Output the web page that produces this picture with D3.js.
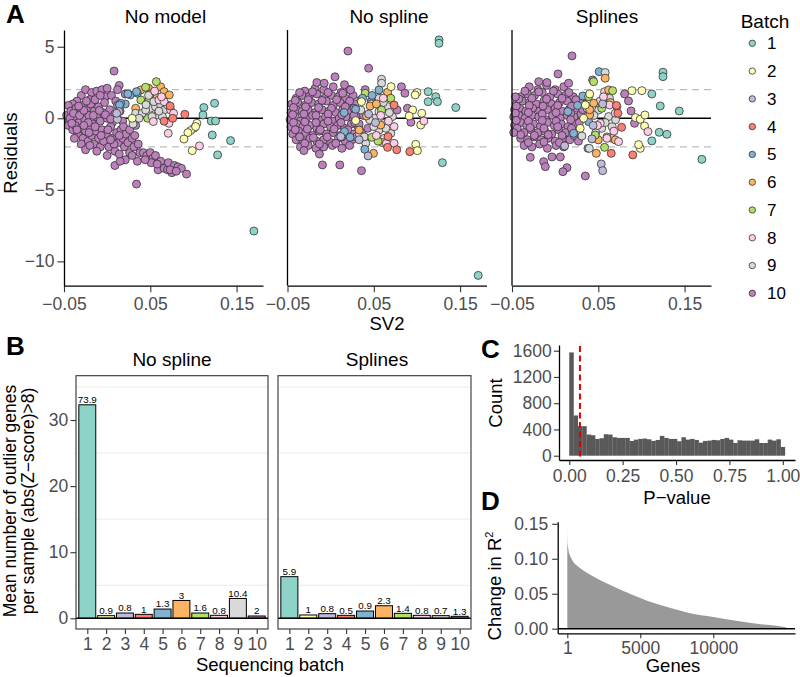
<!DOCTYPE html>
<html><head><meta charset="utf-8">
<script src="https://cdn.jsdelivr.net/npm/d3@7"></script>
<style>body{margin:0;background:#fff}</style>
</head><body>
<svg id="c" width="800" height="677"></svg>
<script>
// ---------------- DATA ----------------
const batches = [1,2,3,4,5,6,7,8,9,10];
const batchColors = ["#8DD3C7","#FFFFB3","#BEBADA","#FB8072","#80B1D3","#FDB462","#B3DE69","#FCCDE5","#D9D9D9","#BC80BD"];
const residualPanels = ["No model","No spline","Splines"];
const sv2Ticks = [-0.05,0.05,0.15];
const residualTicks = [-10,-5,0,5];
const sv2Domain = [-0.05,0.1806];
const residualDomain = [-11.7,6.17];

// [SV2, residual, batch]
const noModelPts = [
[-0.030,1.6,10],[-0.025,2.0,10],[-0.018,1.8,10],[-0.012,1.9,10],[-0.006,2.0,10],[0.000,2.1,10],[-0.002,1.5,10],[-0.035,1.2,10],[-0.040,1.0,10],[-0.045,0.9,10],[-0.020,1.3,10],[0.005,1.6,10],[0.010,1.2,10],[0.012,0.9,10],[0.008,3.3,10],[0.014,2.3,10],[0.021,1.7,10],[0.012,2.0,10],
[-0.047,0.2,10],[-0.044,-0.2,10],[-0.042,0.5,10],[-0.038,0.1,10],[-0.036,0.7,10],[-0.033,-0.3,10],[-0.030,0.4,10],[-0.028,0.9,10],[-0.026,-0.1,10],[-0.024,0.6,10],[-0.021,0.2,10],[-0.019,1.0,10],[-0.017,-0.4,10],[-0.015,0.5,10],[-0.012,0.1,10],[-0.010,0.8,10],[-0.008,-0.2,10],[-0.005,0.4,10],[-0.003,1.1,10],[0.000,0.0,10],[0.003,0.6,10],[0.006,-0.3,10],[0.009,0.3,10],[0.012,0.0,10],[0.015,0.5,10],[0.018,-0.2,10],
[-0.045,-0.5,10],[-0.040,-0.8,10],[-0.037,-0.5,10],[-0.034,-1.1,10],[-0.031,-0.7,10],[-0.028,-1.4,10],[-0.025,-0.9,10],[-0.022,-1.6,10],[-0.020,-0.6,10],[-0.018,-1.2,10],[-0.015,-1.8,10],[-0.013,-0.9,10],[-0.010,-1.4,10],[-0.008,-2.0,10],[-0.006,-0.8,10],[-0.004,-1.6,10],[-0.001,-1.1,10],[0.002,-2.0,10],[0.004,-0.6,10],[0.006,-1.4,10],[0.009,-2.3,10],[0.011,-1.0,10],[0.013,-1.7,10],[0.016,-0.8,10],[0.018,-1.4,10],[0.020,-2.0,10],[-0.030,-1.8,10],[-0.025,-2.2,10],[-0.012,-2.3,10],[0.000,-2.6,10],[0.009,-3.3,10],[0.022,-1.1,10],[0.024,-1.7,10],
[0.026,-2.4,10],[0.029,-1.4,10],[0.031,-2.0,10],[0.033,-0.5,10],[0.032,-1.2,10],[0.036,-1.8,10],[0.038,-2.4,10],[0.035,-3.0,10],[0.034,-4.6,10],[0.042,-2.4,10],[0.046,-2.6,10],[0.050,-2.4,10],[0.053,-2.8,10],[0.056,-2.6,10],[0.051,-3.1,10],[0.059,-3.6,10],[0.062,-3.0,10],[0.066,-3.5,10],[0.070,-3.6,10],[0.071,-3.1,10],[0.075,-3.8,10],[0.078,-3.3,10],[0.082,-3.4,10],[0.086,-3.5,10],[0.092,-3.9,10],[0.021,-2.9,10],[0.015,-3.0,10],[0.014,-2.5,10],
[-0.043,0.0,10],[-0.039,0.35,10],[-0.032,0.2,10],[-0.027,0.55,10],[-0.022,-0.3,10],[-0.016,0.2,10],[-0.009,0.55,10],[-0.002,0.25,10],[0.004,-0.05,10],[-0.041,-0.35,10],[-0.035,-0.8,10],[-0.027,-0.5,10],[-0.021,-1.0,10],[-0.014,-0.6,10],[-0.007,-1.2,10],[0.001,-0.8,10],[0.008,-1.8,10],[0.014,-1.2,10],[-0.033,0.85,10],[-0.024,1.2,10],[-0.014,1.3,10],[-0.008,1.6,10],[-0.038,-1.4,10],[-0.020,-1.9,10],[0.004,-1.5,10],[0.019,-0.6,10],[0.026,-0.8,10],[0.029,-2.6,10],[0.044,-2.9,10],[0.058,-3.2,10],[0.073,-3.6,10],[0.080,-3.7,10],
[0.039,1.98,6],[0.048,2.1,6],[0.062,2.2,6],[0.066,1.86,6],[0.072,1.63,6],[0.052,1.75,6],[0.033,0.7,6],[0.058,1.5,6],
[0.057,2.56,7],[0.0446,2.17,7],[0.039,1.28,7],[0.0485,1.28,7],[0.047,0.0,7],
[0.027,1.63,5],[0.021,1.0,5],[0.0156,1.05,5],[0.035,1.75,5],[0.0143,0.93,5],[0.034,1.86,5],[0.024,1.7,5],
[0.033,0.35,9],[0.0407,0.35,9],[0.05,0.7,9],[0.056,0.81,9],[0.062,0.93,9],[0.066,0.58,9],[0.058,0.23,9],[0.052,0.12,9],[0.0446,0.58,9],[0.037,0.0,9],[0.0697,0.93,9],[0.064,0.12,9],[0.054,1.16,9],[0.048,1.6,9],[0.030,-0.4,9],[0.06,0.5,9],[0.045,0.95,9],
[0.06,1.28,8],[0.066,1.16,8],[0.0735,0.58,8],[0.077,0.35,8],[0.0535,-0.23,8],[0.0716,-0.35,8],[0.0708,-1.05,8],[0.107,-1.93,8],[0.063,1.5,8],[0.055,1.9,8],
[0.09,0.28,4],[0.073,0.86,4],[0.076,0.0,4],[0.066,-0.2,4],
[0.029,0.0,2],[0.104,-0.35,2],[0.1005,-0.7,2],[0.0967,-0.86,2],[0.0936,-1.0,2],[0.089,-1.45,2],[0.0986,-2.26,2],[0.1025,-0.58,2],
[0.112,0.75,1],[0.1245,1.05,1],[0.111,0.23,1],[0.1206,-0.19,1],[0.1256,-0.19,1],[0.1218,-1.17,1],[0.143,-1.56,1],[0.128,-2.56,1],[0.170,-7.88,1],
[0.0118,-0.07,3],[0.0137,0.47,3],[0.011,0.35,3]
];

const noSplinePts = [
[-0.030,1.9,10],[-0.018,2.1,10],[-0.008,2.0,10],[0.003,2.2,10],[0.012,1.8,10],[0.022,2.0,10],
[-0.040,1.4,10],[-0.033,1.6,10],[-0.025,1.5,10],[-0.016,1.7,10],[-0.007,1.4,10],[0.001,1.6,10],[0.009,1.5,10],[0.017,1.4,10],[0.026,1.6,10],
[-0.045,1.0,10],[-0.038,1.1,10],[-0.030,0.9,10],[-0.022,1.1,10],[-0.014,1.0,10],[-0.005,1.2,10],[0.003,0.9,10],[0.011,1.1,10],[0.019,0.9,10],[0.028,1.0,10],
[-0.046,0.4,10],[-0.040,0.6,10],[-0.033,0.5,10],[-0.026,0.6,10],[-0.018,0.4,10],[-0.010,0.6,10],[-0.002,0.5,10],[0.006,0.4,10],[0.014,0.6,10],[0.022,0.5,10],[0.031,0.3,10],
[-0.047,-0.1,10],[-0.041,0.1,10],[-0.035,-0.2,10],[-0.028,0.0,10],[-0.021,0.2,10],[-0.013,-0.1,10],[-0.006,0.1,10],[0.002,-0.2,10],[0.010,0.0,10],[0.018,0.1,10],[0.026,-0.1,10],
[-0.046,-0.6,10],[-0.039,-0.4,10],[-0.032,-0.6,10],[-0.024,-0.5,10],[-0.016,-0.7,10],[-0.008,-0.4,10],[0.000,-0.6,10],[0.008,-0.5,10],[0.016,-0.7,10],[0.024,-0.4,10],[0.032,-0.6,10],
[-0.044,-1.1,10],[-0.037,-0.9,10],[-0.029,-1.0,10],[-0.021,-1.2,10],[-0.013,-0.9,10],[-0.005,-1.1,10],[0.003,-1.0,10],[0.011,-1.2,10],[0.019,-0.9,10],[0.027,-1.1,10],
[-0.040,-1.5,10],[-0.032,-1.6,10],[-0.024,-1.4,10],[-0.016,-1.6,10],[-0.008,-1.5,10],[0.000,-1.7,10],[0.009,-1.4,10],[0.017,-1.6,10],[0.025,-1.5,10],
[-0.035,-2.0,10],[-0.026,-1.9,10],[-0.017,-2.1,10],[-0.008,-2.0,10],[0.002,-1.9,10],[0.013,-2.1,10],[0.022,-1.9,10],
[-0.041,1.25,10],[-0.026,1.3,10],[-0.010,1.25,10],[0.007,1.3,10],[0.022,1.2,10],
[-0.043,0.75,10],[-0.029,0.8,10],[-0.014,0.75,10],[0.001,0.7,10],[0.017,0.8,10],[0.027,0.7,10],
[-0.044,0.25,10],[-0.031,0.3,10],[-0.017,0.2,10],[-0.003,0.3,10],[0.013,0.25,10],[0.027,0.2,10],
[-0.043,-0.3,10],[-0.030,-0.25,10],[-0.017,-0.3,10],[-0.003,-0.2,10],[0.012,-0.3,10],[0.028,-0.3,10],
[-0.041,-0.8,10],[-0.027,-0.75,10],[-0.012,-0.8,10],[0.004,-0.75,10],[0.020,-0.8,10],
[-0.036,-1.3,10],[-0.020,-1.35,10],[-0.004,-1.3,10],[0.013,-1.3,10],
[-0.030,-1.75,10],[-0.013,-1.8,10],[0.006,-1.75,10],
[-0.036,1.8,10],[-0.021,1.85,10],[-0.003,1.8,10],[0.014,1.75,10],
[0.020,4.7,10],[0.044,3.5,10],[0.005,2.9,10],[-0.016,2.5,10],[-0.0075,2.45,10],[0.016,2.35,10],[0.023,1.98,10],[-0.0095,-3.26,10],[0.0106,-3.26,10],[0.0357,-3.66,10],[-0.031,-2.26,10],[-0.013,-2.5,10],[0.082,2.2,10],[0.086,1.75,10],[0.089,0.7,10],[0.093,-0.28,10],[0.077,0.58,10],[0.035,1.3,10],[0.038,0.2,10],[0.033,-0.4,10],[0.030,-1.3,10],[0.036,-1.0,10],[0.040,2.0,10],[0.047,1.2,10],[0.043,-0.7,10],
[0.059,2.73,9],[0.059,2.45,9],[0.066,1.63,9],[0.056,1.4,9],[0.035,0.58,9],[0.051,0.0,9],[0.056,0.47,9],[0.066,0.82,9],[0.0716,0.12,9],[0.062,-0.35,9],[0.056,-0.82,9],[0.0697,-1.05,9],[0.062,-1.4,9],[0.0407,-1.75,9],[0.033,-1.05,9],[0.05,-0.58,9],[0.061,1.1,9],[0.045,-0.1,9],[0.068,0.4,9],[0.047,1.0,9],[0.064,-0.7,9],[0.039,-1.3,9],
[0.066,1.82,6],[0.033,-0.82,6],[0.0496,-2.45,6],[0.0457,0.86,6],[0.0415,0.16,6],[0.058,-0.47,6],[0.053,1.0,6],[0.060,-1.7,6],
[0.040,1.75,7],[0.0477,-1.33,7],[0.0697,1.4,7],[0.059,0.58,7],[0.055,-1.6,7],
[0.0369,1.4,5],[0.056,1.98,5],[0.0156,0.4,5],[0.016,-0.93,5],[0.029,0.63,5],[0.0226,-1.33,5],[0.0396,-2.17,5],[0.048,1.6,5],
[0.0118,-1.28,3],[0.0434,-2.63,3],[0.033,-1.5,3],[0.052,-0.3,3],[0.044,0.3,3],
[0.070,2.21,2],[0.100,1.8,2],[0.098,1.63,2],[0.095,0.58,2],[0.1056,0.35,2],[0.1044,-0.47,2],[0.0986,-1.82,2],[0.1005,-2.26,2],[0.029,-0.16,2],[0.0357,1.16,2],[0.091,0.16,2],
[0.108,-0.19,8],[0.0735,-0.58,8],[0.0646,-1.75,8],[0.0735,-1.75,8],[0.058,0.2,8],[0.053,-1.2,8],[0.067,-0.2,8],[0.061,1.4,8],
[0.0735,0.93,4],[0.0666,-1.28,4],[0.066,-2.03,4],[0.0766,-2.2,4],[0.0917,-2.33,4],
[0.1256,5.48,1],[0.1256,5.24,1],[0.113,1.86,1],[0.1218,1.51,1],[0.1237,1.16,1],[0.113,1.16,1],[0.145,0.75,1],[0.1295,-3.1,1],[0.171,-10.98,1]
];

const splinesPts = [
[-0.030,2.2,10],[-0.020,2.0,10],[-0.010,2.3,10],[0.000,2.0,10],[0.010,2.2,10],
[-0.040,1.5,10],[-0.032,1.7,10],[-0.024,1.6,10],[-0.015,1.8,10],[-0.006,1.5,10],[0.003,1.7,10],[0.012,1.6,10],[0.021,1.5,10],
[-0.045,1.0,10],[-0.038,1.2,10],[-0.030,1.1,10],[-0.022,1.0,10],[-0.013,1.2,10],[-0.004,1.0,10],[0.005,1.1,10],[0.014,1.2,10],[0.023,1.0,10],[0.030,1.2,10],
[-0.047,0.6,10],[-0.041,0.7,10],[-0.034,0.5,10],[-0.026,0.7,10],[-0.018,0.5,10],[-0.009,0.6,10],[0.000,0.7,10],[0.008,0.5,10],[0.016,0.6,10],[0.025,0.7,10],
[-0.048,0.1,10],[-0.042,0.2,10],[-0.035,0.0,10],[-0.027,0.2,10],[-0.019,0.1,10],[-0.011,-0.1,10],[-0.003,0.2,10],[0.006,0.0,10],[0.014,0.2,10],[0.022,0.1,10],
[-0.047,-0.5,10],[-0.040,-0.3,10],[-0.033,-0.5,10],[-0.025,-0.4,10],[-0.017,-0.6,10],[-0.009,-0.3,10],[-0.001,-0.5,10],[0.007,-0.4,10],[0.015,-0.6,10],[0.024,-0.4,10],
[-0.044,-0.9,10],[-0.036,-1.0,10],[-0.028,-0.8,10],[-0.020,-1.0,10],[-0.012,-0.9,10],[-0.004,-1.1,10],[0.004,-0.8,10],[0.012,-1.0,10],[0.020,-0.9,10],
[-0.040,-1.4,10],[-0.032,-1.5,10],[-0.024,-1.3,10],[-0.016,-1.5,10],[-0.008,-1.4,10],[0.000,-1.6,10],[0.009,-1.4,10],[0.017,-1.5,10],
[-0.036,-1.9,10],[-0.027,-2.0,10],[-0.018,-1.8,10],[-0.009,-2.1,10],[0.001,-1.9,10],[0.010,-2.0,10],
[-0.035,1.9,10],[-0.019,1.85,10],[-0.002,1.9,10],[0.016,1.8,10],
[-0.042,1.35,10],[-0.027,1.4,10],[-0.010,1.35,10],[0.008,1.4,10],[0.024,1.3,10],
[-0.045,0.85,10],[-0.030,0.9,10],[-0.014,0.85,10],[0.003,0.9,10],[0.019,0.85,10],
[-0.046,0.35,10],[-0.031,0.4,10],[-0.015,0.3,10],[0.001,0.4,10],[0.018,0.35,10],[0.030,0.3,10],
[-0.045,-0.15,10],[-0.031,-0.2,10],[-0.015,-0.15,10],[0.001,-0.2,10],[0.018,-0.1,10],
[-0.044,-0.7,10],[-0.029,-0.65,10],[-0.013,-0.7,10],[0.003,-0.6,10],[0.019,-0.7,10],
[-0.040,-1.15,10],[-0.024,-1.2,10],[-0.008,-1.15,10],[0.008,-1.2,10],[0.022,-1.2,10],
[-0.031,-1.7,10],[-0.013,-1.65,10],[0.005,-1.7,10],
[0.0195,4.36,10],[0.0033,3.1,10],[-0.019,2.56,10],[-0.0095,2.5,10],[0.0156,2.45,10],[0.0434,2.68,10],[0.0805,1.7,10],[0.085,1.21,10],[0.088,0.51,10],[0.092,-0.35,10],[-0.0133,-3.03,10],[-0.0114,-3.38,10],[0.0137,-3.45,10],[0.009,-3.73,10],[0.035,-4.03,10],[-0.0288,-2.73,10],[-0.0037,-2.7,10],[0.006,-2.7,10],[-0.048,-1.0,10],[0.028,-0.3,10],[0.032,0.6,10],[0.027,-1.6,10],[0.034,1.5,10],[-0.046,1.5,10],
[0.051,3.26,5],[0.0148,0.47,5],[0.0214,-1.05,5],[0.0388,-0.23,5],[0.032,1.56,5],[0.038,-2.1,5],[0.026,0.9,5],
[0.058,3.2,9],[0.0573,1.86,9],[0.0504,0.58,9],[0.062,0.12,9],[0.054,-0.7,9],[0.0658,-1.4,9],[0.0396,-2.1,9],[0.0716,0.81,9],[0.031,-1.24,9],[0.045,0.2,9],[0.058,-0.3,9],[0.066,-0.6,9],[0.052,1.2,9],[0.063,1.4,9],[0.047,-1.0,9],[0.070,-0.1,9],[0.037,0.7,9],
[0.058,2.8,6],[0.062,1.98,6],[0.0446,1.05,6],[0.040,0.23,6],[0.064,1.1,6],[0.050,-1.51,6],[0.0697,-1.51,6],[0.0477,-2.45,6],[0.040,0.6,6],
[0.0446,2.56,7],[0.0666,1.93,7],[0.0388,1.51,7],[0.054,0.7,7],[0.0465,-1.17,7],[0.0573,-2.03,7],[0.06,-1.3,7],
[0.089,1.93,2],[0.1005,1.93,2],[0.035,0.93,2],[0.033,0.0,2],[0.029,-0.7,2],[0.093,0.05,2],[0.0986,-0.07,2],[0.104,0.23,2],[0.1036,-0.54,2],[0.0986,-2.1,2],[0.0967,-1.84,2],[0.040,1.7,2],
[0.063,0.93,8],[0.0697,0.35,8],[0.0523,-0.35,8],[0.1075,-0.93,8],[0.0735,-1.63,8],[0.060,-1.4,8],[0.056,1.5,8],[0.068,-0.9,8],[0.049,-0.5,8],
[0.0727,0.35,4],[0.077,-0.63,4],[0.065,-2.45,4],[0.090,-2.56,4],[0.071,0.9,4],
[0.0534,-3.19,3],[0.055,-3.66,3],[0.0426,-1.44,3],[0.011,-1.93,3],[0.055,1.0,3],[0.044,-0.5,3],
[0.125,3.22,1],[0.125,2.91,1],[0.112,1.7,1],[0.1218,0.86,1],[0.1438,0.51,1],[0.1206,-0.98,1],[0.1295,-1.12,1],[0.112,-1.58,1],[0.17,-2.87,1]
];

// Panel B
const outlierPanels = ["No spline","Splines"];
const outlierNoSpline = [32.3,0.4,0.8,0.6,1.4,2.7,0.8,0.45,3.0,0.35];
const outlierNoSplineLabels = ["73.9","0.9","0.8","1","1.3","3","1.6","0.8","10.4","2"];
const outlierSplines = [6.3,0.5,0.7,0.45,1.1,1.9,0.75,0.45,0.4,0.3];
const outlierSplinesLabels = ["5.9","1","0.8","0.5","0.9","2.3","1.4","0.8","0.7","1.3"];
const outlierTicks = [0,10,20,30];
const outlierGrid = [5,15,25,35];

// Panel C
const pvalBinWidth = 0.0202;
const pvalCounts = [1574,613,450,450,322,312,256,266,327,322,281,271,271,271,225,245,256,261,250,225,240,302,271,256,256,220,281,245,256,240,199,225,230,240,235,256,271,245,194,235,230,230,230,250,194,194,245,230,250,133];
const pvalTicks = [0,0.25,0.5,0.75,1];
const countTicks = [0,400,800,1200,1600];
const pvalCutoff = 0.05;

// Panel D
const geneRank = [1,10,30,47,100,162,393,738,1430,2582,3733,5000,6037,7190,8341,10000,11797,13410,14330,14975];
const deltaR2 = [0.15,0.13,0.12,0.118,0.11,0.106,0.096,0.089,0.079,0.066,0.055,0.044,0.036,0.029,0.0226,0.0168,0.0106,0.006,0.0043,0.002];
const geneTicks = [1,5000,10000];
const r2Ticks = [0,0.05,0.10,0.15];

// ---------------- DRAW ----------------
const FONT = '"Liberation Sans", Arial, Helvetica, sans-serif';
const svg = d3.select("#c").attr("font-family", FONT);
const TICK_FS = 17.5, TITLE_FS = 19, AXT_FS = 18.5;

function styleAxis(g, fs, keepDomain=true) {
  g.attr("font-family", FONT).attr("font-size", fs);
  if (keepDomain) g.select(".domain").attr("stroke","#000").attr("stroke-width",1.3);
  else g.select(".domain").remove();
  g.selectAll(".tick line").attr("stroke","#333").attr("stroke-width",1.1);
  g.selectAll(".tick text").attr("fill","#4d4d4d");
}
function label(x, y, s, o={}) {
  const t = svg.append("text").attr("x",x).attr("y",y).text(s)
    .attr("font-size", o.fs||AXT_FS).attr("fill", o.fill||"#000")
    .attr("text-anchor", o.anchor||"middle");
  if (o.bold) t.attr("font-weight","bold");
  if (o.rot) t.attr("transform",`rotate(-90,${x},${y})`);
  return t;
}
const color = d3.scaleOrdinal().domain(batches).range(batchColors);

// Panel A
const aTop = 30, aBottom = 285.7;
const yRes = d3.scaleLinear().domain(residualDomain).range([aBottom, aTop]);
const aX = [[64,263],[287.5,486.5],[512,711]];
const aData = [noModelPts, noSplinePts, splinesPts];
const aTitleX = [165.5,389,607];
aData.forEach((pts,i) => {
  const xs = d3.scaleLinear().domain(sv2Domain).range(aX[i]);
  const g = svg.append("g");
  [-2,2].forEach(v => g.append("line").attr("x1",aX[i][0]).attr("x2",aX[i][1])
    .attr("y1",yRes(v)).attr("y2",yRes(v)).attr("stroke","#bdbdbd").attr("stroke-width",1.4).attr("stroke-dasharray","7,5"));
  g.append("line").attr("x1",aX[i][0]).attr("x2",aX[i][1]).attr("y1",yRes(0)).attr("y2",yRes(0))
    .attr("stroke","#000").attr("stroke-width",1.6);
  g.selectAll("circle").data(pts).join("circle")
    .attr("cx",d=>xs(d[0])).attr("cy",d=>yRes(d[1])).attr("r",4)
    .attr("fill",d=>color(d[2])).attr("stroke","#333").attr("stroke-width",0.8);
  const xa = svg.append("g").attr("transform",`translate(0,${aBottom})`)
    .call(d3.axisBottom(xs).tickValues(sv2Ticks).tickFormat(d=>d3.format(".2f")(d).replace("-","\u2212")).tickSize(6.5).tickPadding(5).tickSizeOuter(0));
  styleAxis(xa, TICK_FS);
  if (i===0) {
    const ya = svg.append("g").attr("transform",`translate(${aX[i][0]},0)`)
      .call(d3.axisLeft(yRes).tickValues(residualTicks).tickFormat(d=>String(d).replace("-","\u2212")).tickSize(6.5).tickPadding(3).tickSizeOuter(0));
    styleAxis(ya, TICK_FS);
  } else {
    svg.append("line").attr("x1",aX[i][0]).attr("x2",aX[i][0]).attr("y1",aTop).attr("y2",aBottom)
      .attr("stroke","#000").attr("stroke-width",1.3);
  }
  label(aTitleX[i], 22.7, residualPanels[i], {fs:TITLE_FS});
});
label(17, 153, "Residuals", {rot:true});
label(387, 330, "SV2");
label(6, 23, "A", {fs:26, bold:true, anchor:"start"});

// legend
label(740.7, 28, "Batch", {fs:TITLE_FS, anchor:"start"});
const legY = d3.scalePoint().domain(batches).range([43.3, 293.3]);
batches.forEach(b => {
  svg.append("circle").attr("cx",752.3).attr("cy",legY(b)).attr("r",3.2)
    .attr("fill",color(b)).attr("stroke","#333").attr("stroke-width",0.8);
  svg.append("text").attr("x",767).attr("y",legY(b)).attr("dy","0.35em").attr("font-size",17).text(b);
});

// Panel B
const bTop = 375.7, bBottom = 629;
const yOut = d3.scaleLinear().domain([0,30]).range([618.3,420]);
const bX = [[76,268],[278,471]];
const bVals = [outlierNoSpline, outlierSplines];
const bLabs = [outlierNoSplineLabels, outlierSplinesLabels];
const bTitleX = [172,377];
bVals.forEach((vals,i) => {
  const xs = d3.scaleLinear().domain([0.4,10.6]).range(bX[i]);
  const g = svg.append("g");
  outlierGrid.forEach(v => g.append("line").attr("x1",bX[i][0]).attr("x2",bX[i][1]).attr("y1",yOut(v)).attr("y2",yOut(v))
    .attr("stroke","#ebebeb").attr("stroke-width",1));
  g.selectAll("rect.bar").data(vals).join("rect").attr("class","bar")
    .attr("x",(d,j)=>xs(j+1-0.45)).attr("width",(d,j)=>xs(j+1+0.45)-xs(j+1-0.45))
    .attr("y",d=>yOut(d)).attr("height",d=>yOut(0)-yOut(d))
    .attr("fill",(d,j)=>color(batches[j])).attr("stroke","#000").attr("stroke-width",1);
  g.selectAll("text.bl").data(vals).join("text").attr("class","bl")
    .attr("x",(d,j)=>xs(j+1)).attr("y",d=>yOut(d)-1.8).attr("text-anchor","middle")
    .attr("font-size",9.8).attr("fill","#000").text((d,j)=>bLabs[i][j]);
  g.append("line").attr("x1",bX[i][0]).attr("x2",bX[i][1]).attr("y1",yOut(0)).attr("y2",yOut(0))
    .attr("stroke","#000").attr("stroke-width",1.6);
  g.append("rect").attr("x",bX[i][0]).attr("y",bTop).attr("width",bX[i][1]-bX[i][0]).attr("height",bBottom-bTop)
    .attr("fill","none").attr("stroke","#333").attr("stroke-width",1.1);
  const xa = svg.append("g").attr("transform",`translate(0,${bBottom})`)
    .call(d3.axisBottom(xs).tickValues(batches).tickSize(5).tickPadding(4));
  styleAxis(xa, TICK_FS, false);
  if (i===0) {
    const ya = svg.append("g").attr("transform",`translate(${bX[i][0]},0)`)
      .call(d3.axisLeft(yOut).tickValues(outlierTicks).tickSize(5.5).tickPadding(2.2));
    styleAxis(ya, TICK_FS, false);
  }
  label(bTitleX[i], 366, outlierPanels[i], {fs:TITLE_FS});
});
label(16, 501, "Mean number of outlier genes", {rot:true, fs:17.5});
label(33.5, 501, "per sample (abs(Z\u2212score)>8)", {rot:true, fs:17.5});
label(270, 671, "Sequencing batch");
label(6, 355, "B", {fs:26, bold:true, anchor:"start"});

// Panel C
const xP = d3.scaleLinear().domain([-0.048,1.057]).range([559,795]);
const yC = d3.scaleLinear().domain([-65.5,1687]).range([460,345]);
svg.append("g").selectAll("rect").data(pvalCounts).join("rect")
  .attr("x",(d,i)=>xP(i*pvalBinWidth)).attr("width",(d,i)=>xP((i+1)*pvalBinWidth)-xP(i*pvalBinWidth)+0.2)
  .attr("y",d=>yC(d)).attr("height",d=>yC(0)-yC(d)).attr("fill","#595959");
svg.append("line").attr("x1",xP(pvalCutoff)).attr("x2",xP(pvalCutoff)).attr("y1",346).attr("y2",460)
  .attr("stroke","#e00000").attr("stroke-width",2).attr("stroke-dasharray","6,3.5");
{
  const xa = svg.append("g").attr("transform","translate(0,460)")
    .call(d3.axisBottom(xP).tickValues(pvalTicks).tickFormat(d3.format(".2f")).tickSize(5).tickPadding(5).tickSizeOuter(0));
  styleAxis(xa, TICK_FS);
  const ya = svg.append("g").attr("transform","translate(559,0)")
    .call(d3.axisLeft(yC).tickValues(countTicks).tickFormat(d3.format("d")).tickSize(5).tickPadding(2.3).tickSizeOuter(0));
  styleAxis(ya, TICK_FS);
}
label(502, 403, "Count", {rot:true});
label(677, 504, "P\u2212value");
label(481, 358, "C", {fs:26, bold:true, anchor:"start"});

// Panel D
const xG = d3.scaleLinear().domain([-656,15597]).range([557.7,795]);
const yD = d3.scaleLinear().domain([-0.0066,0.153]).range([633.3,521.7]);
const dPts = geneRank.map((g,i)=>[g, deltaR2[i]]);
svg.append("path").datum(dPts)
  .attr("d", d3.area().x(d=>xG(d[0])).y0(yD(0)).y1(d=>yD(d[1])).curve(d3.curveMonotoneX))
  .attr("fill","#999999");
svg.append("line").attr("x1",557.7).attr("x2",795).attr("y1",yD(0)).attr("y2",yD(0))
  .attr("stroke","#000").attr("stroke-width",1.6);
{
  const xa = svg.append("g").attr("transform","translate(0,633.3)")
    .call(d3.axisBottom(xG).tickValues(geneTicks).tickFormat(d3.format("d")).tickSize(5).tickPadding(3.4).tickSizeOuter(0));
  styleAxis(xa, TICK_FS);
  const ya = svg.append("g").attr("transform","translate(557.7,0)")
    .call(d3.axisLeft(yD).tickValues(r2Ticks).tickFormat(d3.format(".2f")).tickSize(5.5).tickPadding(4).tickSizeOuter(0));
  styleAxis(ya, TICK_FS);
}
{
  const t = label(501, 586, "Change in R", {rot:true});
  t.append("tspan").attr("font-size",11).attr("dy",-8).text("2");
}
label(673, 672, "Genes");
label(481, 510, "D", {fs:26, bold:true, anchor:"start"});
</script>
</body></html>
